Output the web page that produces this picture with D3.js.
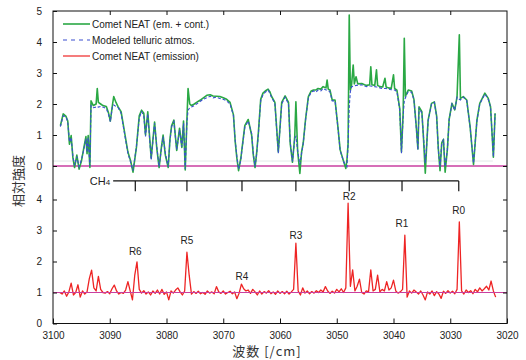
<!DOCTYPE html>
<html>
<head>
<meta charset="utf-8">
<script src="https://cdn.jsdelivr.net/npm/d3@7"></script>
<style>
  body { margin: 0; background: #fff; }
  svg text { font-family: Arial, "Liberation Sans", Helvetica, sans-serif; fill: #222; }
</style>
</head>
<body>
<svg id="chart" width="526" height="360"></svg>
<script>
// ---- data ----
// top panel: wavenumber [cm^-1], modelled telluric atmosphere, comet (emission + continuum)
const topWn = [
  3098.7, 3098.2, 3097.7, 3097.4, 3097.1, 3096.8, 3096.5, 3096.2, 3095.8, 3095.4,
  3095.0, 3094.6, 3094.2, 3094.0, 3093.8, 3093.5, 3093.3, 3092.9, 3092.4, 3092.2,
  3092.0, 3091.6, 3091.2, 3090.6, 3090.2, 3089.9, 3089.5, 3089.3, 3088.9, 3088.5,
  3088.0, 3087.4, 3086.8, 3086.3, 3085.9, 3085.3, 3084.8, 3084.4, 3084.0, 3083.7,
  3083.3, 3082.7, 3082.1, 3081.7, 3081.3, 3080.9, 3080.6, 3080.2, 3079.7, 3079.4,
  3079.1, 3078.7, 3078.2, 3077.7, 3077.3, 3077.0, 3076.7, 3076.4, 3076.2, 3075.9,
  3075.6, 3075.1, 3074.7, 3074.1, 3073.5, 3072.9, 3072.3, 3071.8, 3071.2, 3070.6,
  3070.0, 3069.4, 3068.8, 3068.2, 3067.9, 3067.6, 3067.3, 3066.9, 3066.7, 3066.2,
  3065.6, 3065.0, 3064.7, 3064.4, 3064.1, 3063.8, 3063.4, 3063.0, 3062.6, 3062.1,
  3061.8, 3061.5, 3060.9, 3060.6, 3060.3, 3060.0, 3059.7, 3059.1, 3058.5, 3058.2,
  3057.8, 3057.4, 3057.2, 3056.9, 3056.5, 3056.2, 3055.9, 3055.5, 3055.0, 3054.5,
  3054.1, 3053.7, 3053.3, 3052.8, 3052.4, 3051.9, 3051.7, 3051.5, 3051.2, 3050.8,
  3050.3, 3049.8, 3049.4, 3048.8, 3048.4, 3048.2, 3048.0, 3047.8, 3047.6, 3047.4,
  3047.1, 3046.9, 3046.6, 3046.3, 3045.6, 3045.1, 3044.7, 3044.2, 3044.0, 3043.8,
  3043.3, 3043.0, 3042.8, 3042.4, 3041.9, 3041.5, 3041.3, 3040.9, 3040.4, 3040.0,
  3039.8, 3039.4, 3038.9, 3038.6, 3038.3, 3038.1, 3037.9, 3037.4, 3036.8, 3036.4,
  3036.0, 3035.7, 3035.5, 3035.0, 3034.7, 3034.4, 3034.1, 3033.9, 3033.3, 3032.8,
  3032.4, 3032.1, 3031.8, 3031.5, 3031.2, 3030.9, 3030.5, 3030.2, 3029.7, 3029.2,
  3028.8, 3028.4, 3028.2, 3027.7, 3027.1, 3026.5, 3025.9, 3025.3, 3024.8, 3023.9,
  3023.3, 3022.9, 3022.4, 3022.1
];
const modelAtm = [
  1.27, 1.62, 1.58, 1.42, 0.78, 0.92, 0.32, 0.02, 0.30, -0.02,
  0.20, 0.50, 0.88, 0.45, 0.92, 0.00, 1.95, 1.88, 1.90, 1.92,
  1.90, 1.92, 1.90, 1.85, 1.65, 1.43, 1.95, 1.97, 1.92, 1.88,
  1.70, 1.05, 0.41, 0.10, -0.15, 0.62, 1.55, 1.75, 1.62, 0.95,
  1.68, 0.20, 1.38, 0.60, -0.02, 0.55, 0.95, 0.40, -0.02, 0.80,
  1.27, 1.43, 0.52, 1.16, 0.62, 1.38, -0.10, 1.40, 1.80, 1.88,
  1.90, 1.95, 2.00, 2.08, 2.15, 2.20, 2.25, 2.20, 2.22, 2.18,
  2.15, 2.10, 2.00, 1.62, 0.84, 0.30, -0.10, 0.20, 0.52, 1.25,
  1.45, 1.05, 0.40, -0.02, 0.40, 1.05, 2.10, 2.30, 2.38, 2.45,
  2.35, 2.22, 2.02, 1.20, 0.41, 1.20, 2.00, 2.22, 2.00, 0.75,
  0.15, 0.90, 0.95, 0.52, 0.05, 0.40, 0.73, 1.48, 2.20, 2.38,
  2.42, 2.38, 2.45, 2.42, 2.50, 2.45, 2.45, 2.42, 2.40, 2.10,
  2.10, 1.25, 0.50, 0.14, 0.02, -0.02, 0.70, 1.90, 2.40, 2.55,
  2.58, 2.58, 2.60, 2.60, 2.62, 2.58, 2.56, 2.58, 2.58, 2.57,
  2.56, 2.55, 2.55, 2.52, 2.50, 2.50, 2.50, 2.48, 2.46, 2.45,
  2.45, 2.40, 1.81, 0.41, 1.60, 2.10, 2.20, 2.40, 2.38, 2.13,
  1.27, 0.52, 1.88, 1.70, 0.90, 0.09, 0.80, 1.45, 2.00, 2.05,
  1.59, 0.52, -0.02, 0.73, 0.84, -0.02, 0.52, 1.48, 2.00, 1.80,
  2.22, 2.15, 2.13, 2.22, 2.12, 1.25, 0.09, 1.45, 2.00, 2.32,
  2.15, 1.90, 0.30, 1.68
];
const cometTotal = [
  1.30, 1.68, 1.60, 1.45, 0.70, 0.98, 0.28, -0.05, 0.35, -0.10,
  0.15, 0.55, 0.95, 0.40, 0.98, -0.05, 2.10, 1.95, 2.00, 2.50,
  2.05, 2.00, 1.95, 1.92, 1.70, 1.45, 2.00, 2.24, 2.05, 1.90,
  1.75, 1.10, 0.45, 0.15, -0.20, 0.60, 1.62, 1.80, 1.70, 1.00,
  1.75, 0.25, 1.42, 0.55, -0.05, 0.60, 1.00, 0.35, -0.05, 0.85,
  1.30, 1.48, 0.50, 1.22, 0.60, 1.45, -0.13, 1.50, 2.50, 2.00,
  1.95, 2.00, 2.05, 2.12, 2.20, 2.28, 2.30, 2.26, 2.25, 2.24,
  2.20, 2.15, 2.05, 1.65, 0.80, 0.25, -0.15, 0.25, 0.55, 1.30,
  1.50, 1.00, 0.35, -0.05, 0.45, 1.10, 2.15, 2.35, 2.42, 2.48,
  2.40, 2.25, 2.05, 1.25, 0.45, 1.25, 2.05, 2.26, 2.05, 0.73,
  0.12, 0.95, 2.07, 0.50, -0.24, 0.45, 0.75, 1.50, 2.24, 2.42,
  2.45, 2.45, 2.50, 2.48, 2.56, 2.52, 2.77, 2.48, 2.45, 2.13,
  2.13, 1.27, 0.52, 0.15, -0.08, 0.20, 0.73, 4.87, 2.45, 2.60,
  3.26, 2.65, 2.88, 2.65, 2.66, 2.62, 2.60, 2.62, 3.20, 2.62,
  2.60, 3.10, 2.60, 2.56, 2.55, 2.83, 2.55, 2.52, 2.50, 2.94,
  2.50, 2.45, 1.85, 0.45, 1.70, 4.12, 2.25, 2.45, 2.42, 2.15,
  1.30, 0.55, 1.91, 1.75, 0.85, -0.23, 0.85, 1.48, 2.02, 2.07,
  1.62, 0.55, -0.15, 0.75, 0.86, -0.20, 0.55, 1.50, 2.02, 1.81,
  2.24, 4.23, 2.18, 2.24, 2.13, 1.27, 0.05, 1.48, 2.02, 2.35,
  2.18, 1.91, 0.28, 1.70
];

// bottom panel: comet emission only, sampled every 0.4 cm^-1 from 3098.8 down
const emStart = 3098.8, emStep = 0.4;
const cometEmission = [
  1.00, 0.95, 1.05, 0.88, 1.02, 1.30, 0.92, 1.00, 1.25, 0.85,
  1.05, 0.95, 1.02, 1.45, 1.72, 1.15, 1.05, 1.52, 1.10, 1.00,
  0.98, 1.03, 0.96, 1.12, 1.24, 1.05, 0.95, 1.00, 0.97, 1.08,
  1.35, 1.05, 0.76, 1.55, 1.99, 1.10, 0.98, 1.06, 0.95, 1.02,
  0.92, 1.05, 0.97, 1.08, 0.95, 1.10, 0.94, 1.02, 0.76, 1.05,
  0.98, 1.08, 1.15, 1.02, 0.92, 1.05, 2.30, 1.55, 0.95, 1.03,
  0.97, 1.04, 0.96, 1.00, 0.94, 1.05, 0.98, 1.02, 0.96, 1.19,
  1.02, 0.97, 1.05, 0.95, 1.00, 1.04, 0.96, 1.02, 0.80, 0.98,
  1.27, 1.12, 1.05, 1.08, 0.97, 1.10, 1.02, 0.92, 1.05, 0.95,
  1.03, 0.98, 1.06, 0.96, 1.02, 0.94, 1.05, 0.97, 1.03, 0.96,
  1.04, 0.95, 1.02, 1.10, 2.59, 1.05, 0.92, 1.15, 0.98, 1.05,
  0.96, 1.03, 0.98, 1.06, 1.00, 1.08, 1.02, 1.19, 1.05, 0.97,
  1.04, 0.98, 1.10, 1.02, 1.12, 1.00, 1.15, 3.88, 1.20, 1.73,
  1.05, 1.20, 1.43, 1.00, 0.95, 1.05, 1.02, 1.73, 1.05, 1.10,
  1.56, 1.02, 1.10, 1.05, 1.35, 1.08, 1.15, 1.40, 1.05, 0.98,
  1.02, 1.10, 2.85, 0.85, 1.05, 0.98, 1.08, 1.02, 0.95, 1.05,
  0.92, 0.76, 1.02, 0.95, 1.05, 0.90, 1.03, 0.95, 0.81, 1.04,
  0.97, 1.06, 0.98, 1.04, 0.96, 1.10, 3.28, 1.05, 0.95, 1.08,
  1.00, 1.06, 0.96, 1.10, 1.02, 1.15, 1.05, 1.12, 1.20, 1.08,
  1.37, 1.05, 0.85
];

// CH4 R-branch lines
const rLines = [3085.5, 3076.4, 3066.7, 3057.2, 3047.8, 3038.5, 3028.5];
const rNames = ["R6", "R5", "R4", "R3", "R2", "R1", "R0"];
const rLabelY = [2.32, 2.67, 1.53, 2.85, 4.09, 3.23, 3.64];

const xTicks = [3100, 3090, 3080, 3070, 3060, 3050, 3040, 3030, 3020];
const topTicks = [0, 1, 2, 3, 4, 5];
const botTicks = [0, 1, 2, 3, 4];

const legendNames = ["Comet NEAT (em. + cont.)", "Modeled telluric atmos.", "Comet NEAT (emission)"];

// ---- layout ----
const svg = d3.select("#chart");
const plotLeft = 53, plotRight = 507, plotTop = 11, plotBottom = 323.5;
const GREEN = "#2aa844", BLUE = "#3a4fd0", RED = "#ee2424", PINK = "#c93fa0";

const x = d3.scaleLinear().domain([3100, 3020]).range([plotLeft, plotRight]);
const yTop = d3.scaleLinear().domain([0, 5]).range([166, plotTop]);
const yBot = d3.scaleLinear().domain([0, 4]).range([plotBottom, 199.5]);

// faint reference line just above zero in top panel
svg.append("line")
  .attr("x1", plotLeft).attr("x2", x(3022.5))
  .attr("y1", yTop(0.16)).attr("y2", yTop(0.16))
  .attr("stroke", "#e2e8e8").attr("stroke-width", 1);

// zero line (top)
svg.append("line")
  .attr("x1", plotLeft).attr("x2", plotRight)
  .attr("y1", yTop(0)).attr("y2", yTop(0))
  .attr("stroke", PINK).attr("stroke-width", 1.5);

// top panel curves
const topData = topWn.map((w, i) => ({w: w, m: modelAtm[i], c: cometTotal[i]}));

svg.append("path")
  .datum(topData)
  .attr("fill", "none")
  .attr("stroke", GREEN)
  .attr("stroke-width", 1.6)
  .attr("stroke-linejoin", "round")
  .attr("d", d3.line().x(d => x(d.w)).y(d => yTop(d.c)));

svg.append("path")
  .datum(topData)
  .attr("fill", "none")
  .attr("stroke", BLUE)
  .attr("stroke-width", 1.1)
  .attr("stroke-dasharray", "3,2")
  .attr("d", d3.line().x(d => x(d.w)).y(d => yTop(d.m)));

// bottom panel: emission
const emData = cometEmission.map((v, i) => ({w: emStart - i * emStep, v: v}));

svg.append("path")
  .datum(emData)
  .attr("fill", "none")
  .attr("stroke", RED)
  .attr("stroke-width", 1.3)
  .attr("stroke-linejoin", "round")
  .attr("d", d3.line().x(d => x(d.w)).y(d => yBot(d.v)));

// unity line (bottom)
svg.append("line")
  .attr("x1", plotLeft).attr("x2", plotRight)
  .attr("y1", yBot(1)).attr("y2", yBot(1))
  .attr("stroke", PINK).attr("stroke-width", 1.2);

// R labels
svg.selectAll(".rlab")
  .data(rLines)
  .enter().append("text")
  .attr("class", "rlab")
  .attr("x", d => x(d))
  .attr("y", (d, i) => yBot(rLabelY[i]))
  .attr("dy", "0.35em")
  .attr("text-anchor", "middle")
  .attr("font-size", 10)
  .text((d, i) => rNames[i]);

// CH4 bracket
const brY = yBot(4.6), brTick = yBot(4.27);
svg.append("line")
  .attr("x1", x(3089.4)).attr("x2", x(rLines[rLines.length - 1]))
  .attr("y1", brY).attr("y2", brY)
  .attr("stroke", "#111").attr("stroke-width", 1.2);
svg.selectAll(".brtick")
  .data(rLines)
  .enter().append("line")
  .attr("class", "brtick")
  .attr("x1", d => x(d)).attr("x2", d => x(d))
  .attr("y1", brY).attr("y2", brTick)
  .attr("stroke", "#111").attr("stroke-width", 1.2);
let ch4 = svg.append("text")
  .attr("x", x(3089.4) - 3)
  .attr("y", brY + 4)
  .attr("text-anchor", "end")
  .attr("font-size", 11);
ch4.append("tspan").text("CH");
ch4.append("tspan").attr("font-size", 8).text("4");

// frame
svg.append("rect")
  .attr("x", plotLeft).attr("y", plotTop)
  .attr("width", plotRight - plotLeft).attr("height", plotBottom - plotTop)
  .attr("fill", "none").attr("stroke", "#111").attr("stroke-width", 1);

// axes (ticks pointing inward)
function styleAxis(g) {
  g.select(".domain").remove();
  g.selectAll("line").attr("stroke", "#111");
  g.selectAll("text").attr("font-size", 10).attr("fill", "#222")
    .attr("font-family", "Arial, 'Liberation Sans', sans-serif");
}

svg.append("g")
  .attr("transform", "translate(0," + plotBottom + ")")
  .call(d3.axisBottom(x).tickValues(xTicks).tickSize(-5).tickPadding(8).tickFormat(d3.format("d")))
  .call(styleAxis);
svg.append("g")
  .attr("transform", "translate(0," + plotTop + ")")
  .call(d3.axisTop(x).tickValues(xTicks.slice(1, -1)).tickSize(-4).tickFormat(""))
  .call(styleAxis);

svg.append("g")
  .attr("transform", "translate(" + plotLeft + ",0)")
  .call(d3.axisLeft(yTop).tickValues(topTicks).tickSize(-4).tickPadding(11).tickFormat(d3.format("d")))
  .call(styleAxis);
svg.append("g")
  .attr("transform", "translate(" + plotLeft + ",0)")
  .call(d3.axisLeft(yBot).tickValues(botTicks).tickSize(-4).tickPadding(11).tickFormat(d3.format("d")))
  .call(styleAxis);

svg.append("g")
  .attr("transform", "translate(" + plotRight + ",0)")
  .call(d3.axisRight(yTop).tickValues(topTicks.slice(0, -1)).tickSize(-4).tickFormat(""))
  .call(styleAxis);
svg.append("g")
  .attr("transform", "translate(" + plotRight + ",0)")
  .call(d3.axisRight(yBot).tickValues(botTicks.slice(1)).tickSize(-4).tickFormat(""))
  .call(styleAxis);

// legend
const legColors = [GREEN, BLUE, RED];
const legend = svg.append("g").attr("transform", "translate(63,24)");
legendNames.forEach((name, i) => {
  const row = legend.append("g").attr("transform", "translate(0," + (i * 16) + ")");
  row.append("line")
    .attr("x1", 0).attr("x2", 27).attr("y1", 0).attr("y2", 0)
    .attr("stroke", legColors[i])
    .attr("stroke-width", i === 0 ? 1.6 : 1.2)
    .attr("stroke-dasharray", i === 1 ? "4,4" : null);
  row.append("text")
    .attr("x", 29).attr("dy", "0.35em")
    .attr("font-size", 10)
    .text(name);
});

// axis titles
svg.append("text")
  .attr("transform", "translate(18,181) rotate(-90)")
  .attr("text-anchor", "middle")
  .attr("dy", "0.35em")
  .attr("font-size", 13)
  .style("font-family", "'Noto Sans CJK JP', sans-serif")
  .style("fill", "#333")
  .text("相対強度");

svg.append("text")
  .attr("x", 267).attr("y", 351)
  .attr("text-anchor", "middle")
  .attr("dy", "0.35em")
  .attr("font-size", 13)
  .style("font-family", "'Noto Sans CJK JP', sans-serif")
  .style("fill", "#333")
  .attr("letter-spacing", 1)
  .text("波数 [/cm]");
</script>
</body>
</html>
